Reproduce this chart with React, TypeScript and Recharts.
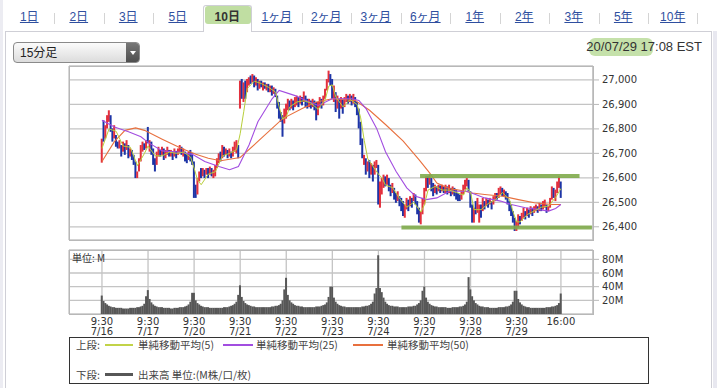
import React from 'react';
import { ComposedChart, Bar, Line, XAxis, YAxis, CartesianGrid, ReferenceLine } from 'recharts';

// ---------------- data ----------------
const periodTabs = ['1日', '2日', '3日', '5日', '10日', '1ヶ月', '2ヶ月', '3ヶ月', '6ヶ月', '1年', '2年', '3年', '5年', '10年'];
const activeTab = '10日';
const intervalLabel = '15分足';
const timestampLabel = '20/07/29 17:08 EST';
const sessionDates = ['7/16', '7/17', '7/20', '7/21', '7/22', '7/23', '7/24', '7/27', '7/28', '7/29'];
const sessionOpenLabel = '9:30';
const sessionCloseLabel = '16:00';
const sessionStartIndex = [0, 26, 52, 78, 104, 130, 156, 182, 208, 234];
const lastBarIndex = 259;
const priceTicks = [26400, 26500, 26600, 26700, 26800, 26900, 27000];
const volumeTicks = [20, 40, 60, 80];
const legendUpper = ['単純移動平均(5)', '単純移動平均(25)', '単純移動平均(50)'];
const legendLower = '出来高 単位:(M株/口/枚)';

// 15-minute bars: [open, close]
const d0716 = [
  [26662, 26760], [26835, 26748], [26761, 26815], [26802, 26856], [26829, 26876], [26856, 26788], [26802, 26748], [26761, 26815], [26775, 26727], [26748, 26720],
  [26720, 26754], [26734, 26687], [26707, 26748], [26741, 26694], [26714, 26754], [26734, 26680], [26687, 26720], [26714, 26673], [26694, 26653], [26667, 26599],
  [26599, 26626], [26626, 26680], [26667, 26734], [26707, 26748], [26741, 26714], [26720, 26754]];
const d0717 = [
  [26808, 26741], [26707, 26754], [26748, 26694], [26720, 26653], [26680, 26626], [26653, 26707], [26687, 26727], [26714, 26687], [26694, 26727], [26720, 26673],
  [26680, 26714], [26694, 26727], [26714, 26687], [26687, 26714], [26707, 26673], [26687, 26720], [26710, 26680], [26694, 26720], [26700, 26734], [26727, 26694],
  [26687, 26720], [26707, 26667], [26700, 26660], [26673, 26707], [26714, 26667], [26700, 26653]];
const d0720 = [
  [26667, 26518], [26572, 26518], [26532, 26599], [26585, 26626], [26640, 26599], [26606, 26640], [26633, 26599], [26613, 26640], [26640, 26599], [26613, 26646],
  [26640, 26606], [26599, 26633], [26606, 26653], [26640, 26680], [26660, 26700], [26707, 26667], [26680, 26734], [26727, 26687], [26694, 26720], [26714, 26680],
  [26687, 26720], [26707, 26680], [26687, 26727], [26707, 26748], [26700, 26754], [26734, 26680]];
const d0721 = [
  [26883, 26997], [27004, 26923], [26910, 26990], [26997, 26923], [26950, 27004], [26977, 27011], [27018, 26984], [26990, 27024], [27018, 26970], [26977, 27011],
  [27004, 26957], [26964, 26997], [26997, 26970], [26957, 26990], [26990, 26964], [26957, 26984], [26984, 26950], [26950, 26977], [26977, 26936], [26943, 26970],
  [26964, 26930], [26936, 26883], [26910, 26842], [26869, 26829], [26856, 26768], [26822, 26883]];
const d0722 = [
  [26842, 26903], [26876, 26923], [26916, 26876], [26883, 26923], [26916, 26876], [26889, 26930], [26896, 26936], [26930, 26889], [26903, 26936], [26930, 26896],
  [26910, 26953], [26936, 26889], [26923, 26883], [26889, 26923], [26916, 26883], [26889, 26923], [26916, 26876], [26910, 26835], [26856, 26910], [26889, 26930],
  [26923, 26883], [26896, 26936], [26923, 26964], [26957, 27004], [26990, 27038], [27024, 26977]];
const d0723 = [
  [27004, 26923], [26910, 26977], [26950, 26869], [26883, 26936], [26923, 26842], [26883, 26930], [26923, 26862], [26889, 26930], [26910, 26943], [26936, 26903],
  [26910, 26943], [26936, 26896], [26903, 26943], [26930, 26889], [26910, 26856], [26883, 26802], [26829, 26734], [26761, 26680], [26653, 26694], [26680, 26613],
  [26626, 26667], [26673, 26599], [26613, 26660], [26653, 26585], [26613, 26667], [26640, 26673]];
const d0724 = [
  [26653, 26491], [26478, 26585], [26532, 26599], [26559, 26613], [26606, 26565], [26572, 26613], [26599, 26545], [26572, 26525], [26538, 26579], [26559, 26511],
  [26538, 26498], [26505, 26545], [26525, 26484], [26518, 26464], [26505, 26444], [26437, 26491], [26471, 26518], [26511, 26464], [26484, 26525], [26518, 26478],
  [26505, 26538], [26532, 26491], [26505, 26451], [26478, 26417], [26410, 26464], [26451, 26518]];
const d0727 = [
  [26491, 26559], [26545, 26606], [26606, 26559], [26572, 26613], [26599, 26545], [26579, 26525], [26538, 26572], [26565, 26532], [26545, 26572], [26569, 26538],
  [26545, 26572], [26565, 26538], [26538, 26572], [26565, 26532], [26538, 26572], [26559, 26525], [26532, 26565], [26559, 26525], [26552, 26511], [26538, 26505],
  [26532, 26505], [26511, 26545], [26532, 26572], [26552, 26592], [26565, 26599], [26592, 26545]];
const d0728 = [
  [26545, 26478], [26491, 26417], [26417, 26478], [26505, 26451], [26457, 26518], [26417, 26491], [26491, 26437], [26464, 26518], [26505, 26471], [26484, 26518],
  [26511, 26478], [26491, 26518], [26505, 26471], [26491, 26525], [26505, 26538], [26538, 26511], [26518, 26559], [26532, 26565], [26559, 26525], [26525, 26552],
  [26545, 26511], [26538, 26491], [26505, 26464], [26491, 26444], [26464, 26417], [26437, 26383]];
const d0729 = [
  [26383, 26424], [26397, 26451], [26444, 26410], [26424, 26457], [26437, 26478], [26464, 26430], [26444, 26478], [26471, 26437], [26451, 26484], [26478, 26444],
  [26457, 26484], [26464, 26491], [26484, 26457], [26464, 26498], [26491, 26464], [26471, 26505], [26478, 26511], [26491, 26457], [26464, 26484], [26478, 26518],
  [26511, 26565], [26559, 26518], [26505, 26552], [26538, 26585], [26559, 26606], [26585, 26518]];

// volume per bar, millions
const v0716 = [27, 19, 16, 14, 12, 11, 10, 10, 9, 9, 9, 9, 8, 8, 8, 8, 9, 9, 9, 9, 10, 10, 11, 12, 15, 26];
const v0717 = [35, 22, 17, 14, 12, 11, 10, 10, 10, 9, 9, 9, 9, 8, 8, 9, 9, 9, 10, 10, 10, 11, 12, 14, 18, 31];
const v0720 = [31, 20, 16, 14, 12, 11, 10, 10, 10, 9, 9, 9, 9, 9, 9, 9, 9, 10, 10, 10, 11, 12, 13, 15, 18, 28];
const v0721 = [42, 25, 19, 16, 14, 13, 12, 11, 11, 10, 10, 10, 10, 10, 10, 10, 10, 10, 11, 11, 12, 12, 13, 15, 20, 36];
const v0722 = [53, 28, 20, 17, 15, 13, 12, 12, 11, 11, 10, 10, 10, 10, 10, 10, 10, 11, 11, 11, 12, 13, 14, 17, 25, 40];
const v0723 = [40, 24, 18, 15, 13, 12, 11, 11, 10, 10, 10, 10, 10, 10, 10, 10, 10, 11, 11, 12, 12, 13, 15, 18, 30, 38];
const v0724 = [86, 38, 32, 24, 18, 15, 13, 12, 12, 11, 11, 11, 10, 10, 10, 10, 10, 11, 11, 11, 12, 12, 14, 16, 20, 34];
const v0727 = [40, 24, 18, 15, 13, 12, 11, 11, 10, 10, 10, 10, 10, 9, 9, 9, 10, 10, 10, 10, 11, 11, 12, 14, 18, 54];
const v0728 = [36, 26, 20, 16, 14, 12, 11, 11, 10, 10, 10, 9, 9, 9, 9, 9, 10, 10, 10, 10, 11, 11, 12, 14, 18, 34];
const v0729 = [34, 22, 17, 14, 12, 11, 10, 10, 9, 9, 9, 9, 9, 9, 9, 9, 9, 10, 10, 10, 11, 11, 12, 13, 16, 30];

// moving averages: [bar index, value]
const ma5Points = [[0, 26720], [4, 26800], [8, 26790], [12, 26730], [16, 26725], [20, 26650], [24, 26700], [26, 26730], [30, 26690], [34, 26690], [38, 26705], [42, 26700], [46, 26705], [50, 26685], [52, 26640], [54, 26590], [56, 26572], [60, 26615], [64, 26625], [68, 26690], [72, 26700], [76, 26715], [78, 26780], [80, 26870], [82, 26965], [86, 26995], [90, 26985], [94, 26970], [98, 26950], [100, 26890], [102, 26840], [104, 26850], [106, 26890], [110, 26910], [114, 26915], [118, 26905], [122, 26880], [126, 26920], [128, 26975], [130, 26980], [132, 26930], [136, 26890], [140, 26920], [144, 26900], [146, 26845], [148, 26753], [150, 26678], [154, 26636], [156, 26615], [158, 26600], [160, 26570], [164, 26560], [168, 26515], [172, 26480], [176, 26500], [180, 26460], [182, 26490], [184, 26550], [188, 26565], [192, 26550], [196, 26550], [200, 26540], [204, 26530], [206, 26560], [208, 26540], [210, 26470], [214, 26470], [218, 26495], [222, 26510], [226, 26540], [230, 26510], [232, 26460], [234, 26420], [236, 26420], [240, 26450], [244, 26465], [248, 26480], [252, 26485], [256, 26520], [259, 26556]];
const ma25Points = [[0, 26835], [7, 26808], [15, 26788], [22, 26768], [26, 26745], [34, 26710], [45, 26704], [51, 26696], [58, 26667], [66, 26646], [72, 26633], [77, 26646], [83, 26734], [88, 26829], [96, 26923], [100, 26957], [109, 26936], [117, 26910], [122, 26896], [130, 26923], [141, 26923], [145, 26916], [149, 26883], [155, 26802], [160, 26707], [166, 26626], [172, 26559], [177, 26525], [183, 26511], [189, 26518], [196, 26545], [206, 26545], [216, 26518], [225, 26505], [231, 26491], [239, 26478], [246, 26471], [252, 26464], [256, 26475], [259, 26491]];
const ma50Points = [[0, 26667], [7, 26748], [13, 26794], [19, 26804], [24, 26794], [34, 26758], [45, 26720], [53, 26696], [60, 26680], [67, 26670], [72, 26676], [78, 26683], [90, 26762], [102, 26842], [113, 26883], [121, 26910], [130, 26923], [143, 26916], [151, 26876], [160, 26818], [170, 26750], [179, 26673], [185, 26619], [189, 26579], [196, 26556], [203, 26548], [209, 26538], [216, 26532], [226, 26525], [235, 26511], [244, 26498], [254, 26491], [259, 26491]];

// hand-drawn range annotations: level, from bar, to bar
const resistanceMark = [26608, 179.5, 269.5];
const supportMark = [26397, 169, 276.5];

// ---------------- derived tables ----------------
const sessions = [d0716, d0717, d0720, d0721, d0722, d0723, d0724, d0727, d0728, d0729];
const volumes = [v0716, v0717, v0720, v0721, v0722, v0723, v0724, v0727, v0728, v0729];
const candleRows = sessions.flat().map(([o, c], i) => ({ x: i, o, c, range: [Math.min(o, c), Math.max(o, c)] }));
const volumeRows = volumes.flat().map((v, i) => ({ x: i, v }));
const toRows = (pts: number[][]) => pts.map(([x, y]) => ({ x, y }));

const X_DOMAIN: [number, number] = [-18.6, 277.1];
const PRICE_DOMAIN: [number, number] = [26346, 27057];
const VOL_DOMAIN: [number, number] = [0, 93.7];
const xTicks = [...sessionStartIndex, lastBarIndex];

const RED = '#e3303d';
const BLUE = '#1d34a6';
const GRID = '#c4c4c4';
const AXIS_FONT = { fontSize: 10, fill: '#333', fontFamily: '"DejaVu Sans", sans-serif' };
const CJK = '"Noto Sans CJK JP", "DejaVu Sans", sans-serif';
const LATIN = '"Liberation Sans", "Noto Sans CJK JP", sans-serif';

function CandleShape(props: any) {
  const { x, width, y, height, payload } = props;
  if (x == null || y == null || !payload) return null;
  const cx = x + (width || 0) / 2;
  const top = Math.min(y, y + height);
  const h = Math.max(Math.abs(height), 1.2);
  return <rect x={cx - 1} y={top} width={2} height={h} fill={payload.c >= payload.o ? RED : BLUE} />;
}

function VolumeShape(props: any) {
  const { x, width, y, height } = props;
  if (x == null || y == null) return null;
  const cx = x + (width || 0) / 2;
  return <rect x={cx - 1} y={y} width={2} height={Math.max(height, 0)} fill="#575757" />;
}

function TimeTick(props: any) {
  const { x, y, payload } = props;
  const idx = sessionStartIndex.indexOf(payload.value);
  const style = { fontSize: 10, fill: '#333', fontFamily: '"DejaVu Sans", sans-serif' };
  if (idx < 0) {
    return <text x={x} y={y + 11} textAnchor="middle" style={style}>{sessionCloseLabel}</text>;
  }
  return (
    <g>
      <text x={x} y={y + 11} textAnchor="middle" style={style}>{sessionOpenLabel}</text>
      <text x={x} y={y + 20.5} textAnchor="middle" style={style}>{sessionDates[idx]}</text>
    </g>
  );
}

const abs = (left: number, top: number, extra: React.CSSProperties = {}): React.CSSProperties => ({ position: 'absolute', left, top, ...extra });
const legendText: React.CSSProperties = { fontSize: 10.5, lineHeight: '12px', color: '#444', whiteSpace: 'nowrap' };

export default function App() {
  const slotW = 49.5;
  const slot0 = 4.5;
  return (
    <div style={{ position: 'absolute', left: 0, top: 0, width: 728, height: 388, background: '#fff', overflow: 'hidden', fontFamily: CJK }}>
      {/* side strips / panel */}
      <div style={abs(0, 0, { width: 3, height: 388, background: '#ececf2' })} />
      <div style={abs(5, 31, { width: 707, height: 400, borderLeft: '1px solid #cfcfd6', borderTop: '1px solid #cfcfd6', borderRight: '1px solid #cfcfd6', boxSizing: 'border-box' })} />
      <div style={abs(713, 31, { width: 4, height: 360, background: '#e8e8f0' })} />

      {/* tabs */}
      {periodTabs.map((t, i) => {
        const left = slot0 + i * slotW;
        const active = t === activeTab;
        return (
          <React.Fragment key={t}>
            {active && (
              <div style={abs(left + 0.5, 5, { width: slotW - 1, height: 27, background: '#fff', border: '1px solid #cfcfd6', borderBottom: 'none', boxSizing: 'border-box', borderRadius: '3px 3px 0 0' })}>
                <div style={{ position: 'absolute', left: 1, top: 0, width: slotW - 4, height: 18, background: 'rgba(150,200,100,0.6)', borderRadius: 3 }} />
              </div>
            )}
            <div style={abs(left, 9, { width: slotW, textAlign: 'center', fontSize: 12, lineHeight: '17px', fontFamily: LATIN, color: active ? '#333' : '#2f4f9f', fontWeight: active ? 700 : 400, textDecoration: active ? 'none' : 'underline' })}>{t}</div>
            {!active && i + 1 < periodTabs.length && periodTabs[i + 1] !== activeTab && (
              <div style={abs(left + slotW, 13, { width: 1, height: 11, background: '#d4d4d4' })} />
            )}
          </React.Fragment>
        );
      })}
      <div style={abs(slot0 + periodTabs.length * slotW - 1, 13, { width: 1, height: 11, background: '#d4d4d4' })} />

      {/* interval selector */}
      <div style={abs(13, 42, { width: 127, height: 21, border: '1px solid #8a8a8a', borderRadius: 4, boxSizing: 'border-box', background: 'linear-gradient(#fbfbfb, #dcdcdc)', overflow: 'hidden' })}>
        <div style={{ position: 'absolute', left: 6, top: 1, fontSize: 12, lineHeight: '18px', color: '#222', fontFamily: LATIN }}>{intervalLabel}</div>
        <div style={{ position: 'absolute', right: 0, top: 0, width: 13, height: 19, background: 'linear-gradient(#777, #4e4e4e)' }}>
          <div style={{ position: 'absolute', left: 3.5, top: 8, width: 0, height: 0, borderLeft: '3px solid transparent', borderRight: '3px solid transparent', borderTop: '4px solid #fff' }} />
        </div>
      </div>

      {/* timestamp */}
      <div style={abs(589, 38, { width: 64, height: 18, background: 'rgba(150,200,100,0.55)', borderRadius: 6 })} />
      <div style={abs(520, 38, { width: 182, textAlign: 'right', fontSize: 13, lineHeight: '17px', color: '#333', fontFamily: LATIN })}>{timestampLabel}</div>

      {/* price chart */}
      <div style={abs(0, 0)}>
        <ComposedChart width={728} height={245} data={candleRows} margin={{ top: 66, left: 69, right: 75, bottom: 5 }}>
          <CartesianGrid stroke={GRID} strokeWidth={1.3} />
          <XAxis type="number" dataKey="x" domain={X_DOMAIN} ticks={xTicks} allowDataOverflow height={0} tick={false} tickLine={false} axisLine={false} />
          <YAxis orientation="right" type="number" domain={PRICE_DOMAIN} ticks={priceTicks} interval={0} allowDataOverflow width={60} tickSize={6} tickMargin={3}
            tick={AXIS_FONT} tickFormatter={(v: number) => v.toLocaleString('en-US')} axisLine={{ stroke: '#b8b8b8' }} tickLine={{ stroke: '#b8b8b8' }} />
          <Bar dataKey="range" shape={<CandleShape />} isAnimationActive={false} />
          <Line data={toRows(ma50Points)} dataKey="y" type="linear" stroke="#e8703e" strokeWidth={1.1} dot={false} activeDot={false} isAnimationActive={false} />
          <Line data={toRows(ma25Points)} dataKey="y" type="linear" stroke="#a24de0" strokeWidth={1.1} dot={false} activeDot={false} isAnimationActive={false} />
          <Line data={toRows(ma5Points)} dataKey="y" type="linear" stroke="#b8cf3a" strokeWidth={1} dot={false} activeDot={false} isAnimationActive={false} />
          <ReferenceLine segment={[{ x: resistanceMark[1], y: resistanceMark[0] }, { x: resistanceMark[2], y: resistanceMark[0] }]} stroke="#7fab4b" strokeOpacity={0.9} strokeWidth={4} ifOverflow="visible" />
          <ReferenceLine segment={[{ x: supportMark[1], y: supportMark[0] }, { x: supportMark[2], y: supportMark[0] }]} stroke="#7fab4b" strokeOpacity={0.9} strokeWidth={4} ifOverflow="visible" />
        </ComposedChart>
      </div>
      <div style={abs(69, 66, { width: 525, height: 175, border: '1px solid #b8b8b8', boxSizing: 'border-box' })} />

      {/* volume chart */}
      <div style={abs(0, 245)}>
        <ComposedChart width={728} height={100} data={volumeRows} margin={{ top: 5, left: 69, right: 75, bottom: 0 }}>
          <CartesianGrid stroke={GRID} strokeWidth={1.3} />
          <XAxis type="number" dataKey="x" domain={X_DOMAIN} ticks={xTicks} allowDataOverflow height={31} tickSize={0} tickMargin={0} tickLine={false} axisLine={false} tick={<TimeTick />} interval={0} />
          <YAxis orientation="right" type="number" domain={VOL_DOMAIN} ticks={volumeTicks} interval={0} allowDataOverflow width={60} tickSize={6} tickMargin={3}
            tick={AXIS_FONT} tickFormatter={(v: number) => `${v}M`} axisLine={{ stroke: '#b8b8b8' }} tickLine={{ stroke: '#b8b8b8' }} />
          <Bar dataKey="v" shape={<VolumeShape />} isAnimationActive={false} />
        </ComposedChart>
      </div>
      <div style={abs(69, 250, { width: 525, height: 65, border: '1px solid #b8b8b8', boxSizing: 'border-box' })} />
      <div style={abs(72, 252, { fontSize: 10, lineHeight: '12px', color: '#333', fontFamily: CJK })}>単位: M</div>

      {/* legend */}
      <div style={abs(69, 337, { width: 580, height: 47, border: '1px solid #333', boxSizing: 'border-box' })} />
      <div style={abs(76, 339, legendText)}>上段:</div>
      <div style={abs(105, 344, { width: 28, height: 1.5, background: '#c2d348' })} />
      <div style={abs(138, 339, legendText)}>{legendUpper[0]}</div>
      <div style={abs(223, 344, { width: 30, height: 1.5, background: '#a24de0' })} />
      <div style={abs(256, 339, legendText)}>{legendUpper[1]}</div>
      <div style={abs(353, 344, { width: 30, height: 1.5, background: '#e8703e' })} />
      <div style={abs(387, 339, legendText)}>{legendUpper[2]}</div>
      <div style={abs(76, 369, legendText)}>下段:</div>
      <div style={abs(105, 373, { width: 28, height: 3, background: '#575757' })} />
      <div style={abs(138, 369, legendText)}>{legendLower}</div>
    </div>
  );
}
